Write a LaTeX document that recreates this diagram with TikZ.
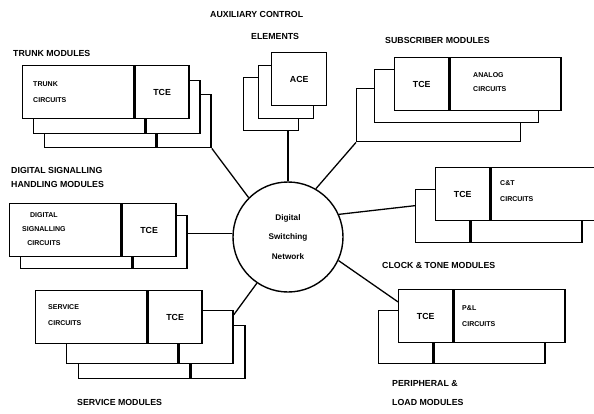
\documentclass[tikz,border=0pt]{standalone}
\usepackage{fontspec}
\setmainfont{Liberation Sans}
\usetikzlibrary{calc}

\tikzset{
  card/.style={draw, fill=white, line width=1.2pt, inner sep=0pt, minimum height=1.59cm, anchor=north west},
  narrow/.style={card, minimum width=1.62cm, font=\fontsize{7.5}{9}\selectfont\bfseries},
  wide/.style={card, minimum width=3.33cm},
  whole/.style={card, minimum width=4.92cm},
  acebox/.style={card, minimum width=1.65cm, font=\fontsize{7.5}{9}\selectfont\bfseries},
  lbl/.style={font=\fontsize{7.5}{12}\selectfont\bfseries, anchor=west, inner sep=0pt, align=left},
  txt/.style={font=\fontsize{6}{14}\selectfont\bfseries, anchor=west, inner sep=0pt, align=left},
  link/.style={line width=1.1pt},
}

\begin{document}
\begin{tikzpicture}[x=0.03cm, y=-0.03cm]
  \useasboundingbox (0,0) rectangle (594,413);
  \clip (0,0) rectangle (594,413);

  % the switching network in the middle
  \node[draw, circle, line width=1.2pt, minimum size=3.3cm, align=center,
        font=\fontsize{7}{17}\selectfont\bfseries] (dsn) at (288,237) {Digital\\Switching\\Network};

  % trunk modules: three cards, front one on top
  \node[wide] (trk3a) at (44,94) {};
  \node[narrow] (trk3b) at (trk3a.north east) {};
  \node[wide] (trk2a) at (33,80) {};
  \node[narrow] (trk2b) at (trk2a.north east) {};
  \node[wide] (trk1a) at (22,65) {};
  \node[narrow] (trk1b) at (trk1a.north east) {TCE};
  \node[txt] (trktxt) at (33,92) {TRUNK\\CIRCUITS};
  \node[lbl] (trklbl) at (13,53) {TRUNK MODULES};

  % auxiliary control elements
  \node[acebox] (ace3) at (243,77) {};
  \node[acebox] (ace2) at (258,65) {};
  \node[acebox] (ace1) at (271,52) {ACE};
  \node[lbl] (auxlbl) at (210,14) {AUXILIARY CONTROL};
  \node[lbl] (elemlbl) at (251,36) {ELEMENTS};

  % subscriber modules
  \node[whole] (sub3) at (356,88) {};
  \node[whole] (sub2) at (374,69) {};
  \node[narrow] (sub1a) at (394,57) {TCE};
  \node[wide] (sub1b) at (sub1a.north east) {};
  \node[txt, font=\fontsize{6}{12.5}\selectfont\bfseries] (subtxt) at (473,82) {ANALOG\\CIRCUITS};
  \node[lbl] (sublbl) at (385,40) {SUBSCRIBER MODULES};

  % digital signalling handling modules
  \node[wide] (dsh2a) at (20,215) {};
  \node[narrow] (dsh2b) at (dsh2a.north east) {};
  \node[wide] (dsh1a) at (9,203) {};
  \node[narrow] (dsh1b) at (dsh1a.north east) {TCE};
  \node[txt, align=center, font=\fontsize{6}{12}\selectfont\bfseries] (dshtxt) at (22,229) {DIGITAL\\SIGNALLING\\CIRCUITS};
  \node[lbl] (dshlbl) at (11,177) {DIGITAL SIGNALLING\\HANDLING MODULES};

  % clock & tone modules, cut by the right edge
  \node[narrow] (ct2a) at (415,189) {};
  \node[wide] (ct2b) at (ct2a.north east) {};
  \node[narrow] (ct1a) at (435,167) {TCE};
  \node[wide] (ct1b) at (ct1a.north east) {};
  \node[txt] (cttxt) at (500,191) {C\&T\\CIRCUITS};
  \node[lbl] (ctlbl) at (382,265) {CLOCK \& TONE MODULES};

  % service modules
  \node[wide] (srv3a) at (78,325) {};
  \node[narrow] (srv3b) at (srv3a.north east) {};
  \node[wide] (srv2a) at (66,310) {};
  \node[narrow] (srv2b) at (srv2a.north east) {};
  \node[wide] (srv1a) at (35,290) {};
  \node[narrow] (srv1b) at (srv1a.north east) {TCE};
  \node[txt] (srvtxt) at (48,315) {SERVICE\\CIRCUITS};
  \node[lbl] (srvlbl) at (77,402) {SERVICE MODULES};

  % peripheral & load modules
  \node[narrow] (pl2a) at (378,310) {};
  \node[wide] (pl2b) at (pl2a.north east) {};
  \node[narrow] (pl1a) at (398,289) {TCE};
  \node[wide] (pl1b) at (pl1a.north east) {};
  \node[txt] (pltxt) at (462,316) {P\&L\\CIRCUITS};
  \node[lbl, font=\fontsize{7.5}{17}\selectfont\bfseries] (pllbl) at (392,393) {PERIPHERAL \&\\LOAD MODULES};

  % spokes to the network
  \draw[link] (trk3b.south east) -- (dsn.135);
  \draw[link] (dsn.north) -- (dsn.north |- ace3.south);
  \draw[link] (sub3.south west) -- (dsn.60);
  \draw[link] (dsn.24) -- ([yshift=9pt]ct2a.west);
  \draw[link] (dsn.-25) -- ([yshift=-11pt]pl1a.north west);
  \draw[link] ([yshift=3pt]dsn.west) -- ([yshift=3pt]dsn.west -| dsh2b.east);
  \draw[link] (dsn.-124) -- ([yshift=-4pt]srv2b.north east);
\end{tikzpicture}
\end{document}
